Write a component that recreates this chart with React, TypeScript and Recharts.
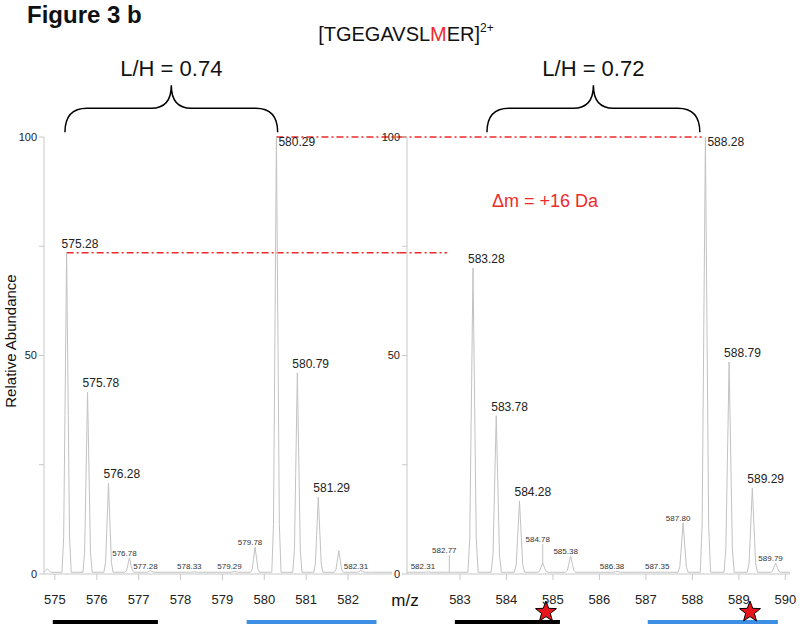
import React from 'react';
import { LineChart, Line, XAxis, YAxis, ReferenceLine, ReferenceDot } from 'recharts';

const FONT = '"Liberation Sans", Arial, Helvetica, sans-serif';
const TRACE = '#c2c2c2';
const AXIS = '#c8c8c8';
const RED = '#ee2a2a';
const BLUE = '#3d8fe3';

// left panel: light (L) + heavy (H) envelopes, unmodified peptide
const leftMz = [574.82, 575.28, 575.78, 576.28, 576.78, 577.28, 578.33, 579.29, 579.78, 580.29, 580.79, 581.29, 581.78, 582.31, 582.6];
const leftAbundance = [1.2, 73.5, 41.6, 20.8, 3.7, 0.8, 0.5, 0.6, 6.2, 100, 46.0, 17.6, 5.3, 0.8, 0.4];
const leftLabelled = [575.28, 575.78, 576.28, 576.78, 577.28, 578.33, 579.29, 579.78, 580.29, 580.79, 581.29, 582.31];
const leftTicks = [575, 576, 577, 578, 579, 580, 581, 582];

// right panel: oxidised (+16 Da)
const rightMz = [582.31, 582.77, 583.28, 583.78, 584.28, 584.78, 585.38, 586.38, 587.35, 587.8, 588.28, 588.79, 589.29, 589.79];
const rightAbundance = [0.5, 0.4, 70.0, 36.2, 16.7, 2.5, 4.1, 0.6, 0.4, 11.7, 100, 48.5, 19.7, 2.5];
const rightLabelled = [582.31, 582.77, 583.28, 583.78, 584.28, 584.78, 585.38, 586.38, 587.35, 587.8, 588.28, 588.79, 589.29, 589.79];
const rightTicks = [583, 584, 585, 586, 587, 588, 589, 590];

// labels lifted above their peak with a thin leader line
const leaderMz = [582.77, 584.78];
const leaderTop = [4.3, 6.9];

const yTicks = [0, 25, 50, 75, 100];

// isotope envelope bars under the axis and oxidation stars
const lightBars = [[574.95, 577.46], [582.89, 585.15]];
const heavyBars = [[579.58, 582.68], [587.04, 589.84]];
const starMz = [584.85, 589.24];
const ratios = ['L/H = 0.74', 'L/H = 0.72'];
const braceRanges = [[575.24, 580.32], [583.58, 588.16]];

// simple peak profile template (m/z offset, fraction of height)
const peakOffsets = [-0.11, -0.07, -0.04, 0, 0.04, 0.07, 0.11];
const peakShape = [0, 0.11, 0.49, 1, 0.49, 0.11, 0];
const BASE = 0.4;

function profile(mz: number[], ab: number[], from: number, to: number) {
  const pts = [{ mz: from, ab: BASE }];
  mz.forEach((m, i) => {
    peakOffsets.forEach((o, k) => {
      pts.push({ mz: +(m + o).toFixed(3), ab: BASE + peakShape[k] * (ab[i] - BASE) });
    });
  });
  pts.push({ mz: to, ab: BASE });
  return pts;
}

const peakLabel = (mz: number, ab: number) => (p: any) => {
  const { cx, cy } = p;
  const txt = mz.toFixed(2);
  if (ab >= 99) {
    return <text x={cx + 2} y={cy + 9} fontSize={12} fill="#222" fontFamily={FONT}>{txt}</text>;
  }
  if (ab >= 15) {
    return <text x={cx - 5} y={cy - 5} fontSize={12} fill="#222" fontFamily={FONT}>{txt}</text>;
  }
  return (
    <text x={cx - 5} y={Math.min(cy - 2, 569)} fontSize={8} fill="#333" textAnchor="middle" fontFamily={FONT}>
      {txt}
    </text>
  );
};

const brace = (label: string) => (p: any) => {
  const { x1, y1, x2 } = p;
  const xm = (x1 + x2) / 2;
  const h = y1 - 24;
  const t = y1 - 47;
  const d = `M${x1},${y1} Q${x1},${h} ${x1 + 22},${h} L${xm - 20},${h} Q${xm},${h} ${xm},${t} Q${xm},${h} ${xm + 20},${h} L${x2 - 22},${h} Q${x2},${h} ${x2},${y1}`;
  return (
    <g>
      <path d={d} fill="none" stroke="#000" strokeWidth={1.5} />
      <text x={xm} y={t - 9} textAnchor="middle" fontSize={22} fill="#111" fontFamily={FONT}>{label}</text>
    </g>
  );
};

const star = (p: any) => {
  const { cx, cy } = p;
  const pts: string[] = [];
  for (let i = 0; i < 10; i++) {
    const r = i % 2 === 0 ? 11 : 4.6;
    const a = -Math.PI / 2 + (i * Math.PI) / 5;
    pts.push(`${cx + r * Math.cos(a)},${cy + r * Math.sin(a)}`);
  }
  return <polygon points={pts.join(' ')} fill="#e8141c" stroke="#000" strokeWidth={1} />;
};

type PanelProps = {
  idx: number;
  mz: number[];
  abundance: number[];
  labelled: number[];
  domain: [number, number];
  ticks: number[];
  left: number;
  width: number;
  yAxisWidth: number;
  marginRight: number;
  dashed: { from: number; to: number; y: number }[];
};

function Panel(props: PanelProps) {
  const { idx, mz, abundance, labelled, domain, ticks, left, width, yAxisWidth, marginRight, dashed } = props;
  const data = profile(mz, abundance, domain[0], domain[1]);
  const leaders = leaderMz.filter((m) => mz.includes(m));
  return (
    <div style={{ position: 'absolute', left, top: 0 }}>
      <LineChart width={width} height={629} data={data} margin={{ top: 137, right: marginRight, bottom: 25, left: 0 }}>
        <XAxis
          dataKey="mz"
          type="number"
          domain={domain}
          allowDataOverflow
          ticks={ticks}
          interval={0}
          height={30}
          tickSize={6}
          tickMargin={15}
          axisLine={{ stroke: AXIS }}
          tickLine={{ stroke: AXIS }}
          tick={{ fill: '#222', fontSize: 13, fontFamily: FONT }}
        />
        <YAxis
          type="number"
          domain={[0, 100]}
          allowDataOverflow
          ticks={yTicks}
          interval={0}
          width={yAxisWidth}
          tickSize={5}
          tickMargin={2}
          axisLine={{ stroke: AXIS }}
          tickLine={{ stroke: AXIS }}
          tickFormatter={(v: number) => (v % 50 === 0 ? String(v) : '')}
          tick={{ fill: '#222', fontSize: 11, fontFamily: FONT }}
        />
        {dashed.map((s, i) => (
          <ReferenceLine
            key={'d' + i}
            segment={[{ x: s.from, y: s.y }, { x: s.to, y: s.y }]}
            stroke={RED}
            strokeWidth={1.5}
            strokeDasharray="7 3 2 3"
            ifOverflow="visible"
          />
        ))}
        <Line type="linear" dataKey="ab" stroke={TRACE} strokeWidth={1} dot={false} isAnimationActive={false} />
        {leaders.map((m, i) => (
          <ReferenceLine
            key={'l' + i}
            segment={[{ x: m, y: abundance[mz.indexOf(m)] }, { x: m, y: leaderTop[leaderMz.indexOf(m)] }]}
            stroke={TRACE}
            strokeWidth={1}
            ifOverflow="visible"
          />
        ))}
        {labelled.map((m) => {
          const ab = abundance[mz.indexOf(m)];
          const li = leaderMz.indexOf(m);
          const y = li >= 0 ? leaderTop[li] : ab;
          return <ReferenceDot key={'p' + m} x={m} y={y} r={0} ifOverflow="visible" shape={peakLabel(m, li >= 0 ? 0 : ab)} />;
        })}
        <ReferenceLine
          segment={[{ x: braceRanges[idx][0], y: 101.1 }, { x: braceRanges[idx][1], y: 101.1 }]}
          ifOverflow="visible"
          shape={brace(ratios[idx])}
        />
        <ReferenceLine
          segment={[{ x: lightBars[idx][0], y: -11 }, { x: lightBars[idx][1], y: -11 }]}
          stroke="#000"
          strokeWidth={4}
          ifOverflow="visible"
        />
        <ReferenceLine
          segment={[{ x: heavyBars[idx][0], y: -11 }, { x: heavyBars[idx][1], y: -11 }]}
          stroke={BLUE}
          strokeWidth={4}
          ifOverflow="visible"
        />
        {idx === 1 &&
          starMz.map((m) => <ReferenceDot key={'s' + m} x={m} y={-8.7} r={0} ifOverflow="visible" shape={star} />)}
      </LineChart>
    </div>
  );
}

export default function App() {
  return (
    <div style={{ position: 'absolute', left: 0, top: 0, width: 800, height: 629, background: '#fff', overflow: 'hidden' }}>
      <Panel
        idx={0}
        mz={leftMz}
        abundance={leftAbundance}
        labelled={leftLabelled}
        domain={[574.74, 583.05]}
        ticks={leftTicks}
        left={0}
        width={400}
        yAxisWidth={44}
        marginRight={8}
        dashed={[
          { from: 580.29, to: 583.23, y: 100 },
          { from: 575.28, to: 583.23, y: 73.5 },
        ]}
      />
      <Panel
        idx={1}
        mz={rightMz}
        abundance={rightAbundance}
        labelled={rightLabelled}
        domain={[581.86, 590.1]}
        ticks={rightTicks}
        left={360}
        width={440}
        yAxisWidth={47}
        marginRight={10}
        dashed={[
          { from: 581.7, to: 588.2, y: 100 },
          { from: 581.7, to: 582.72, y: 73.5 },
        ]}
      />
      <svg width={800} height={629} style={{ position: 'absolute', left: 0, top: 0, pointerEvents: 'none' }}>
        <text x={27} y={23} fontSize={24} fontWeight="bold" fill="#111" fontFamily={FONT}>Figure 3 b</text>
        <text x={406} y={41} fontSize={20} textAnchor="middle" fill="#111" fontFamily={FONT}>
          [TGEGAVSL<tspan fill={RED}>M</tspan>ER]<tspan fontSize={12} dy={-9}>2+</tspan>
        </text>
        <text x={492} y={207} fontSize={18} fill={RED} fontFamily={FONT}>Δm = +16 Da</text>
        <text x={16} y={341} fontSize={15} textAnchor="middle" fill="#111" fontFamily={FONT} transform="rotate(-90 16 341)">
          Relative Abundance
        </text>
        <text x={405} y={606} fontSize={17} textAnchor="middle" fill="#111" fontFamily={FONT}>m/z</text>
      </svg>
    </div>
  );
}
